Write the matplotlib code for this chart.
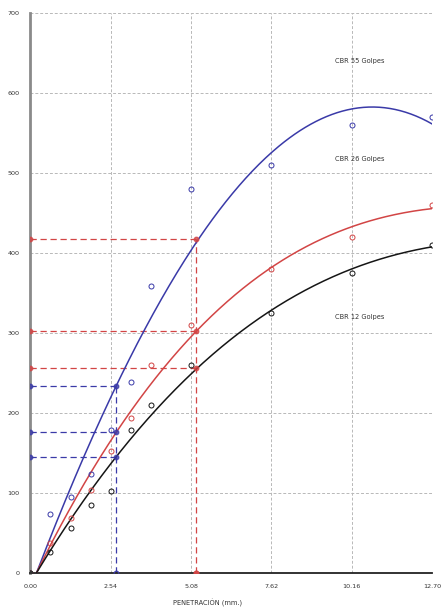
import numpy as np
import matplotlib
matplotlib.use("Agg")
import matplotlib.pyplot as plt

# ---- data ----
penetration = [0.00, 0.63, 1.27, 1.90, 2.54, 3.17, 3.81, 5.08, 7.62, 10.16, 12.70]
load_55 = [0, 74, 95, 124, 179, 239, 359, 480, 510, 560, 570]
load_26 = [0, 37, 69, 104, 152, 194, 260, 310, 380, 420, 460]
load_12 = [0, 26, 56, 85, 102, 179, 210, 260, 325, 375, 410]

# points read along the drawn (corrected) trend curves
curve_x = [0.20, 2.70, 5.24, 7.62, 10.16, 12.70]
curve_55 = [0, 233, 417, 518, 586, 560]
curve_26 = [0, 176, 302, 380, 435, 455]
curve_12 = [0, 145, 256, 325, 383, 407]

corr_x_254 = 2.70
corr_x_508 = 5.24
corr_254 = [233, 176, 145]
corr_508 = [417, 302, 256]

xticks = [0.00, 2.54, 5.08, 7.62, 10.16, 12.70]
xtick_labels = ["0.00", "2.54", "5.08", "7.62", "10.16", "12.70"]
yticks = [0, 100, 200, 300, 400, 500, 600, 700]

labels = ["CBR 55 Golpes", "CBR 26 Golpes", "CBR 12 Golpes"]
label_y = [640, 518, 320]
label_x = 10.4

blue = "#3a3aa8"
red = "#d24545"
black = "#151515"

fig = plt.figure(figsize=(4.41, 6.11), dpi=100)
ax = fig.add_axes([0.069, 0.0627, 0.911, 0.9155])

ax.set_xlim(0, 12.70)
ax.set_ylim(0, 700)

# grid
for xt in xticks[1:]:
    ax.axvline(xt, color="#b8b8b8", lw=0.7, ls=(0, (3, 2)), zorder=1)
for yt in yticks[1:]:
    ax.axhline(yt, color="#b8b8b8", lw=0.7, ls=(0, (3, 2)), zorder=1)

# trend curves (cubic fits through read curve points)
xs = np.linspace(curve_x[0], 12.70, 300)
for cy, col in [(curve_55, blue), (curve_26, red), (curve_12, black)]:
    coef = np.polyfit(curve_x, cy, 3)
    ax.plot(xs, np.polyval(coef, xs), color=col, lw=1.1, zorder=3)

# data points
for ly, col in [(load_55, blue), (load_26, red), (load_12, black)]:
    ax.plot(penetration, ly, ls="none", marker="o", ms=3.6, mfc="none",
            mec=col, mew=0.7, zorder=4)

# correction guides
dash = (0, (5, 3))
ax.plot([corr_x_254, corr_x_254], [0, max(corr_254)], color=blue, lw=0.9, ls=dash, zorder=2)
ax.plot([corr_x_508, corr_x_508], [0, max(corr_508)], color=red, lw=0.9, ls=dash, zorder=2)
for v in corr_254:
    ax.plot([0, corr_x_254], [v, v], color=blue, lw=0.9, ls=dash, zorder=2)
    ax.plot([0, corr_x_254], [v, v], ls="none", marker="o", ms=3.2, mfc=blue,
            mec=blue, alpha=0.8, zorder=5)
for v in corr_508:
    ax.plot([0, corr_x_508], [v, v], color=red, lw=0.9, ls=dash, zorder=2)
    ax.plot([0, corr_x_508], [v, v], ls="none", marker="o", ms=3.2, mfc=red,
            mec=red, alpha=0.8, zorder=5)
ax.plot([corr_x_254], [0], ls="none", marker="o", ms=3.4, mfc="none", mec=blue, mew=0.8, zorder=5)
ax.plot([corr_x_508], [0], ls="none", marker="o", ms=3.4, mfc=red, mec=red, zorder=5)
ax.plot([0], [0], ls="none", marker="o", ms=3.4, mfc="#333333", mec="#333333", zorder=5)

# text labels
for t, yv in zip(labels, label_y):
    ax.text(label_x, yv, t, fontsize=4.8, color="#333333", ha="center", va="center")

# axes styling
ax.set_xticks(xticks)
ax.set_xticklabels(xtick_labels)
ax.set_yticks(yticks)
ax.tick_params(axis="both", length=0, labelsize=4.6, labelcolor="#333333")
ax.tick_params(axis="x", pad=8)
ax.tick_params(axis="y", pad=8)
for s in ["top", "right"]:
    ax.spines[s].set_visible(False)
ax.spines["left"].set_color("#8a8a8a")
ax.spines["left"].set_linewidth(2.0)
ax.spines["bottom"].set_color("#222222")
ax.spines["bottom"].set_linewidth(1.3)

fig.text(0.47, 0.013, "PENETRACIÓN (mm.)", fontsize=4.8, color="#333333", ha="center", va="center")

fig.savefig("out.png", dpi=100)
